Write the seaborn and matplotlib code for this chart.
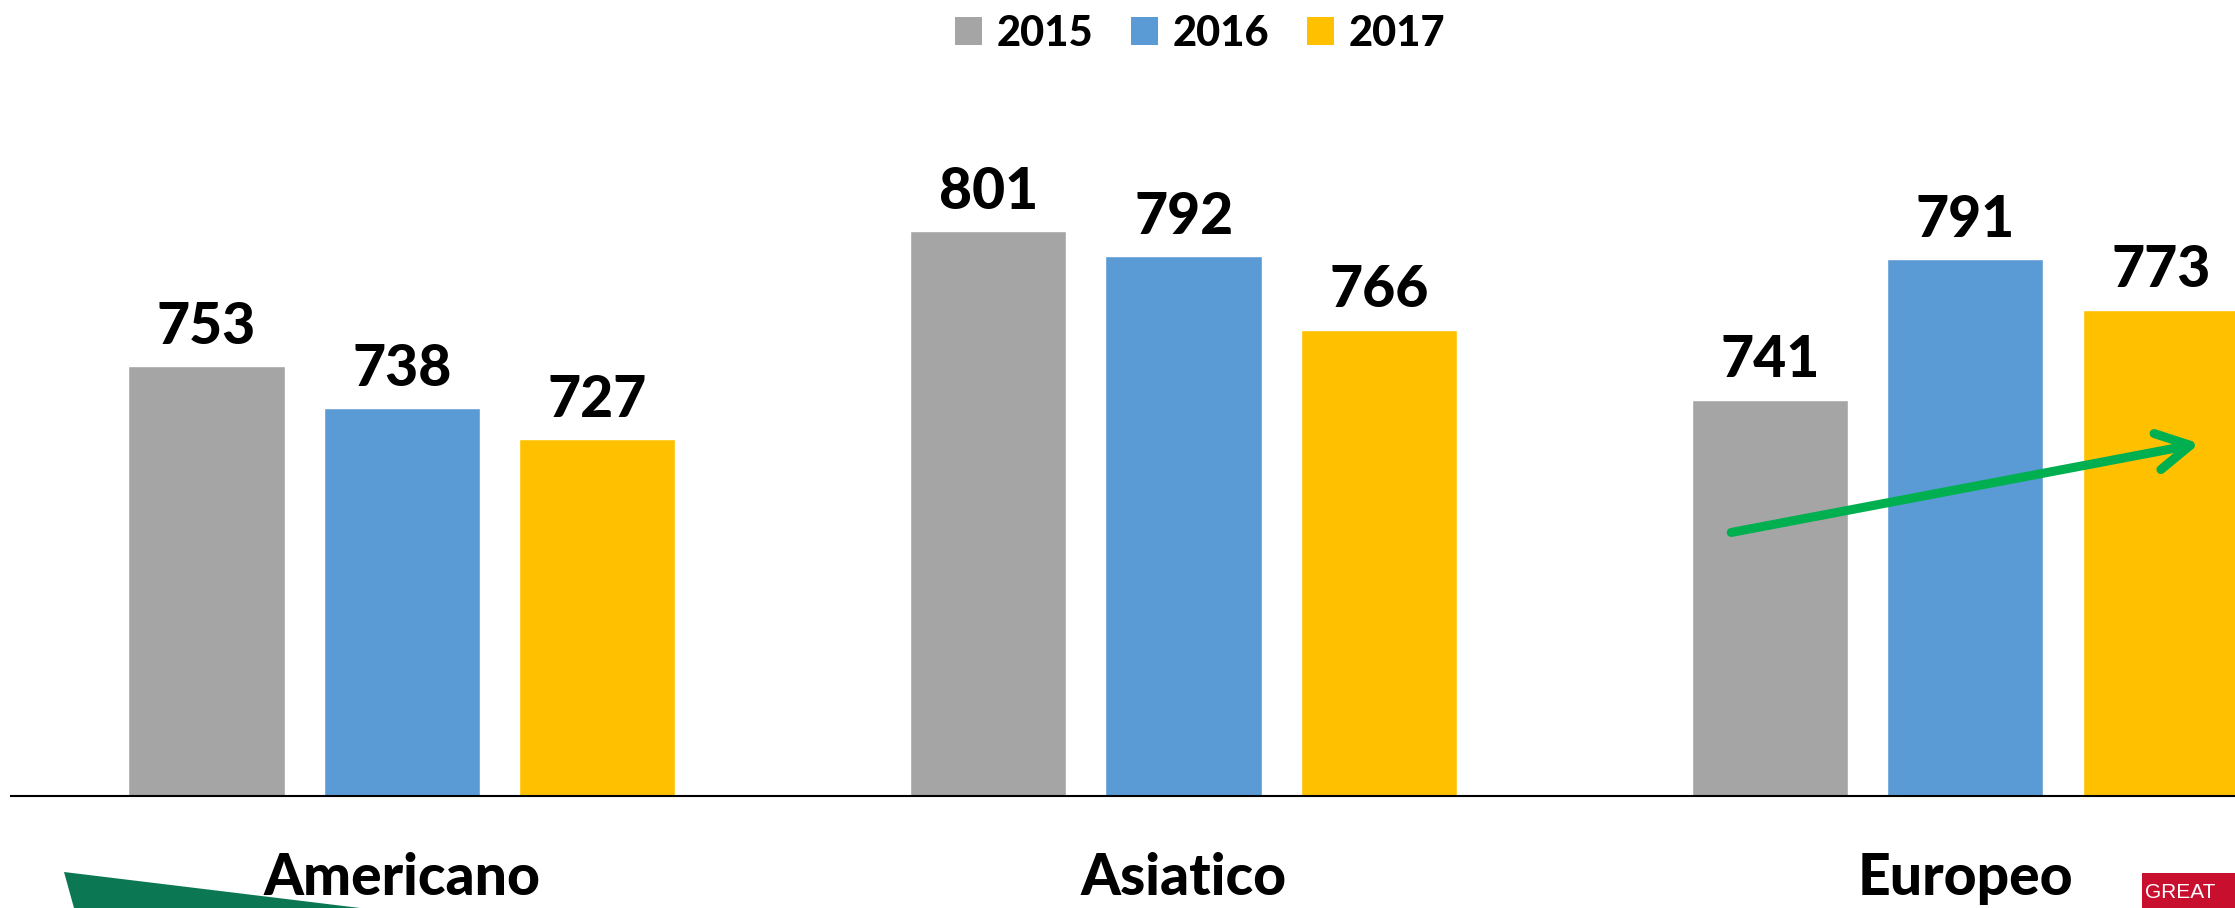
import matplotlib
matplotlib.use("Agg")
import matplotlib.pyplot as plt
from matplotlib.patches import Polygon, Rectangle, Patch
import seaborn as sns
import pandas as pd

categories = ["Americano", "Asiatico", "Europeo"]
years = ["2015", "2016", "2017"]
values_2015 = [753, 801, 741]
values_2016 = [738, 792, 791]
values_2017 = [727, 766, 773]
colors = ["#A5A5A5", "#5B9BD5", "#FFC000"]

df = pd.DataFrame({
    "cat": categories * 3,
    "year": [y for y in years for _ in categories],
    "val": values_2015 + values_2016 + values_2017,
})

sns.set_theme(style="white")
plt.rcParams["font.family"] = ["Lato", "DejaVu Sans"]
plt.rcParams["text.color"] = "black"

W, H = 2235, 908
fig = plt.figure(figsize=(W / 100, H / 100), dpi=100)
ax = fig.add_axes([11 / W, 1 - 796 / H, 1 - 11 / W, (796 - 93.5) / H])

sns.barplot(data=df, x="cat", y="val", hue="year", order=categories,
            hue_order=years, palette=colors, width=0.75, gap=0.2,
            saturation=1, ax=ax, legend=False)

ax.set_ylim(600, 850)
ax.set_xlim(-0.5, 2.345)
for c in ax.containers:
    ax.bar_label(c, fmt="%d", padding=9, fontsize=41, fontweight="black",
                 color="black", clip_on=False)

for s in ["top", "left", "right"]:
    ax.spines[s].set_visible(False)
ax.spines["bottom"].set_color("black")
ax.spines["bottom"].set_linewidth(1.5)
ax.set_yticks([])
ax.set_xlabel("")
ax.set_ylabel("")
ax.tick_params(axis="x", length=0, pad=40, labelsize=41, labelcolor="black")
for t in ax.get_xticklabels():
    t.set_fontweight("black")

# trend arrow (data coordinates)
ax.annotate("", xy=(2.303, 725.6), xytext=(1.697, 693.6),
            arrowprops=dict(arrowstyle="->,head_length=2.0,head_width=1.1",
                            color="#00B050", lw=6.5, capstyle="round",
                            joinstyle="round"),
            annotation_clip=False)

handles = [Patch(facecolor=c, edgecolor="none") for c in colors]
leg = fig.legend(handles, years, loc="center", bbox_to_anchor=(0.537, 0.963),
                 ncol=3, frameon=False, prop=dict(size=30, weight="black"),
                 handlelength=0.65, handleheight=0.65, handletextpad=0.35,
                 columnspacing=0.9)
for t in leg.get_texts():
    t.set_color("black")

# slide decorations
fig.add_artist(Polygon([(64 / W, 1 - 872 / H), (360 / W, 0), (74 / W, 0)],
                       closed=True, transform=fig.transFigure,
                       facecolor="#0B7853", edgecolor="none", zorder=0))
fig.add_artist(Rectangle((2142 / W, 0), 93 / W, 35 / H, transform=fig.transFigure,
                         facecolor="#C8102E", edgecolor="none"))
fig.text(2145 / W, 15 / H, "GREAT", color="white", fontsize=15,
         ha="left", va="center", family=["Liberation Sans", "DejaVu Sans"])

fig.savefig("out.png", dpi=100)
